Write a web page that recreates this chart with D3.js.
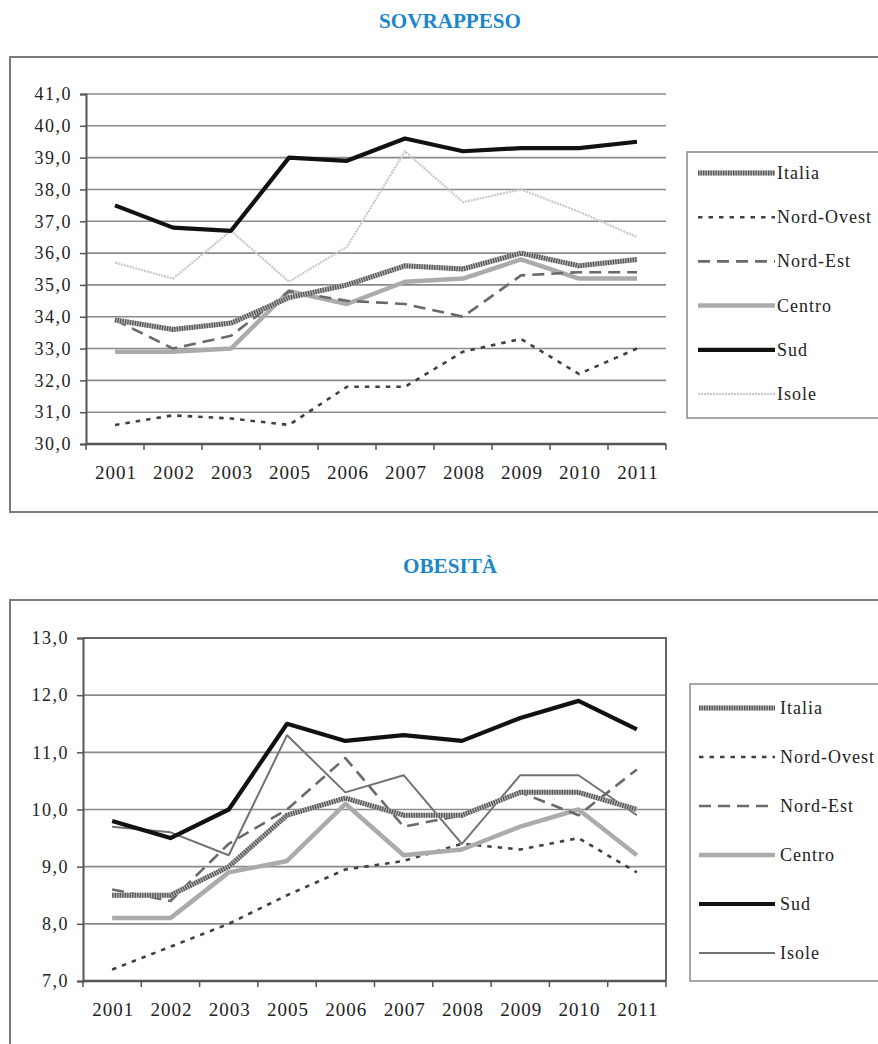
<!DOCTYPE html>
<html><head><meta charset="utf-8">
<script src="https://cdn.jsdelivr.net/npm/d3@7"></script>
<style>body{margin:0;background:#fff}svg{display:block}</style>
</head><body>
<svg id="c" width="878" height="1044"></svg>
<script>
const years = ["2001","2002","2003","2005","2006","2007","2008","2009","2010","2011"];
const seriesNames = ["Italia","Nord-Ovest","Nord-Est","Centro","Sud","Isole"];
// SOVRAPPESO
const sovItalia    = [33.9,33.6,33.8,34.6,35.0,35.6,35.5,36.0,35.6,35.8];
const sovNordOvest = [30.6,30.9,30.8,30.6,31.8,31.8,32.9,33.3,32.2,33.0];
const sovNordEst   = [33.9,33.0,33.4,34.8,34.5,34.4,34.0,35.3,35.4,35.4];
const sovCentro    = [32.9,32.9,33.0,34.8,34.4,35.1,35.2,35.8,35.2,35.2];
const sovSud       = [37.5,36.8,36.7,39.0,38.9,39.6,39.2,39.3,39.3,39.5];
const sovIsole     = [35.7,35.2,36.7,35.1,36.2,39.2,37.6,38.0,37.3,36.5];
const sovTicks = [30,31,32,33,34,35,36,37,38,39,40,41];
// OBESITÀ
const obeItalia    = [8.5,8.5,9.0,9.9,10.2,9.9,9.9,10.3,10.3,10.0];
const obeNordOvest = [7.2,7.6,8.0,8.5,8.95,9.1,9.4,9.3,9.5,8.9];
const obeNordEst   = [8.6,8.4,9.4,10.0,10.9,9.7,9.9,10.3,9.9,10.7];
const obeCentro    = [8.1,8.1,8.9,9.1,10.1,9.2,9.3,9.7,10.0,9.2];
const obeSud       = [9.8,9.5,10.0,11.5,11.2,11.3,11.2,11.6,11.9,11.4];
const obeIsole     = [9.7,9.6,9.2,11.3,10.3,10.6,9.4,10.6,10.6,9.9];
const obeTicks = [7,8,9,10,11,12,13];

const svg = d3.select("#c");
const fmt = v => d3.format(".1f")(v).replace(".", ",");
const FONT = "'Liberation Serif','Times New Roman',serif";

function styleFor(name, which) {
  switch (name) {
    case "Italia": return [{stroke:"#b5b5b5", w:5, dash:null},{stroke:"#555", w:5, dash:"1.3 1.2"}];
    case "Nord-Ovest": return [{stroke:"#404040", w:2.6, dash:"4.5 6"}];
    case "Nord-Est": return [{stroke:"#6a6a6a", w:2.6, dash:"12 7"}];
    case "Centro": return [{stroke:"#ababab", w:4.5, dash:null}];
    case "Sud": return [{stroke:"#111", w:4.2, dash:null}];
    case "Isole": return which === "top"
      ? [{stroke:"#c8c8c8", w:2.2, dash:"2 1"}]
      : [{stroke:"#727272", w:2, dash:null}];
  }
}

function chart(cfg) {
  const g = svg.append("g");
  // title
  g.append("text").attr("x", 450).attr("y", cfg.titleY)
    .attr("text-anchor", "middle").attr("font-family", FONT)
    .attr("font-weight", "bold").attr("font-size", 21).attr("fill", "#1b87c9")
    .attr("textLength", cfg.titleW).attr("lengthAdjust", "spacingAndGlyphs")
    .text(cfg.title);
  // outer frame
  g.append("rect").attr("x", 10).attr("y", cfg.frameTop)
    .attr("width", 900).attr("height", cfg.frameH)
    .attr("fill", "none").attr("stroke", "#7a7a7a").attr("stroke-width", 2);

  const x = d3.scaleBand().domain(years).range([cfg.left, cfg.right]);
  const y = d3.scaleLinear().domain([cfg.ticks[0], cfg.ticks[cfg.ticks.length-1]])
    .range([cfg.bottom, cfg.top]);

  // gridlines
  g.append("g").selectAll("line").data(cfg.ticks.slice(1)).join("line")
    .attr("x1", cfg.left).attr("x2", cfg.right)
    .attr("y1", d => y(d)).attr("y2", d => y(d))
    .attr("stroke", "#8a8a8a").attr("stroke-width", 1.6);
  if (cfg.border) {
    g.append("path").attr("d", `M${cfg.left},${cfg.top}H${cfg.right}V${cfg.bottom}`)
      .attr("fill", "none").attr("stroke", "#666").attr("stroke-width", 2);
  }

  // y axis
  const ya = d3.axisLeft(y).tickValues(cfg.ticks).tickFormat(fmt).tickSize(6).tickPadding(8);
  const yg = g.append("g").attr("transform", `translate(${cfg.left},0)`).call(ya);
  yg.select(".domain").attr("stroke", "#555").attr("stroke-width", 2);
  yg.selectAll(".tick line").attr("stroke", "#555").attr("stroke-width", 1.5);
  yg.selectAll("text").attr("font-family", FONT).attr("font-size", 18)
    .attr("letter-spacing", "1.5px").attr("fill", "#222");

  // x axis with ticks at band boundaries
  const xg = g.append("g").attr("transform", `translate(0,${cfg.bottom})`);
  xg.append("line").attr("x1", cfg.left).attr("x2", cfg.right)
    .attr("stroke", "#555").attr("stroke-width", 2.4);
  const bounds = years.map(d => x(d)).concat([cfg.right]);
  xg.selectAll(".tk").data(bounds).join("line").attr("class","tk")
    .attr("x1", d => d).attr("x2", d => d).attr("y1", 0).attr("y2", 6)
    .attr("stroke", "#555").attr("stroke-width", 1.5);
  xg.selectAll(".lb").data(years).join("text").attr("class","lb")
    .attr("x", d => x(d) + x.bandwidth()/2 + 1).attr("y", cfg.labelDy)
    .attr("text-anchor", "middle").attr("font-family", FONT).attr("font-size", 19)
    .attr("letter-spacing", "1px").attr("fill", "#222").text(d => d);

  // lines
  const line = d3.line().x((d,i) => x(years[i]) + x.bandwidth()/2).y(d => y(d));
  const drawOrder = cfg.order;
  drawOrder.forEach(name => {
    const vals = cfg.series[name];
    styleFor(name, cfg.which).forEach(s => {
      g.append("path").datum(vals).attr("d", line)
        .attr("fill", "none").attr("stroke", s.stroke).attr("stroke-width", s.w)
        .attr("stroke-dasharray", s.dash).attr("stroke-linejoin", "round");
    });
  });

  // legend
  const L = cfg.legend;
  g.append("rect").attr("x", L.x).attr("y", L.y).attr("width", 300).attr("height", L.h)
    .attr("fill", "#fff").attr("stroke", "#8a8a8a").attr("stroke-width", 1.5);
  seriesNames.forEach((name, i) => {
    const yy = L.first + i * L.step;
    styleFor(name, cfg.which).forEach(s => {
      g.append("line").attr("x1", L.lx1).attr("x2", L.lx2).attr("y1", yy).attr("y2", yy)
        .attr("stroke", s.stroke).attr("stroke-width", s.w).attr("stroke-dasharray", s.dash);
    });
    g.append("text").attr("x", L.tx).attr("y", yy + 6).attr("font-family", FONT)
      .attr("font-size", 18).attr("letter-spacing", "1px").attr("fill", "#222").text(name);
  });
}

chart({
  which: "top", title: "SOVRAPPESO", titleY: 28, titleW: 142,
  frameTop: 57, frameH: 455,
  left: 86, right: 666, top: 94, bottom: 444, ticks: sovTicks, border: false, labelDy: 35,
  series: {"Italia":sovItalia,"Nord-Ovest":sovNordOvest,"Nord-Est":sovNordEst,"Centro":sovCentro,"Sud":sovSud,"Isole":sovIsole},
  order: ["Isole","Nord-Ovest","Centro","Nord-Est","Italia","Sud"],
  legend: {x: 687, y: 152, h: 266, first: 173, step: 44.2, lx1: 698, lx2: 775, tx: 777}
});
chart({
  which: "bottom", title: "OBESITÀ", titleY: 573, titleW: 94,
  frameTop: 600, frameH: 500,
  left: 83, right: 666, top: 638, bottom: 981, ticks: obeTicks, border: true, labelDy: 35,
  series: {"Italia":obeItalia,"Nord-Ovest":obeNordOvest,"Nord-Est":obeNordEst,"Centro":obeCentro,"Sud":obeSud,"Isole":obeIsole},
  order: ["Nord-Ovest","Centro","Isole","Nord-Est","Italia","Sud"],
  legend: {x: 690, y: 684, h: 297, first: 708, step: 49, lx1: 699, lx2: 775, tx: 780}
});
</script>
</body></html>
